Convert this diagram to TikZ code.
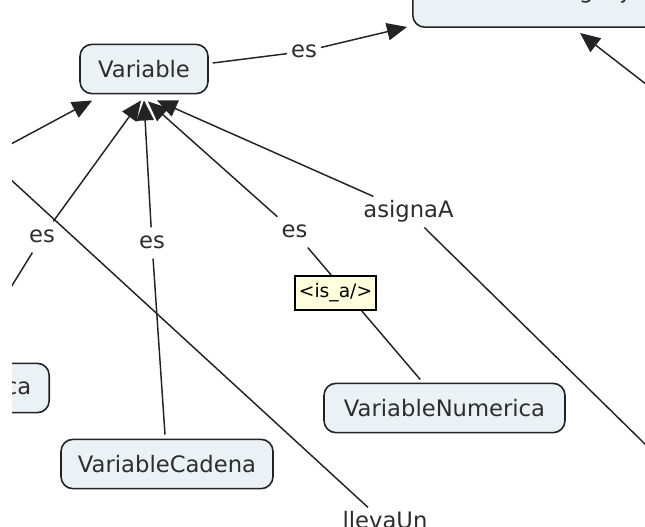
\documentclass[tikz,border=0pt]{standalone}
\usepackage{fontspec}
\setmainfont{DejaVu Sans}
\usetikzlibrary{arrows.meta,calc}
\definecolor{cfill}{RGB}{235,242,245}
\definecolor{cline}{RGB}{35,35,35}
\definecolor{ctext}{RGB}{45,45,45}
\definecolor{tipfill}{RGB}{255,255,222}
\begin{document}
\begin{tikzpicture}[x=0.75pt,y=-0.75pt,
  concept/.style={draw=cline, line width=1.2pt, fill=cfill, rounded corners=9pt, text=ctext,
    font=\fontsize{17pt}{20pt}\selectfont, minimum height=37pt, inner xsep=0pt, inner ysep=0pt},
  lbl/.style={text=ctext, font=\fontsize{17pt}{20pt}\selectfont, text height=12.9pt,
    text depth=4.1pt, inner xsep=3pt, inner ysep=3pt},
  conn/.style={draw=cline, line width=1.1pt},
  arr/.style={conn, -{Triangle[length=15pt,width=13pt]}},
  tooltip/.style={draw=black, line width=1.1pt, fill=tipfill, minimum width=60.75pt,
    minimum height=25.5pt, inner sep=0pt, font=\fontsize{14pt}{16pt}\selectfont, text=black}
]
\useasboundingbox (0,0) rectangle (645,527);
\clip (12,0) rectangle (645,527);

% concepts
\node[concept, minimum width=96pt] (var) at (144,69) {Variable};
\node[concept, minimum width=159pt] (vc) at (167,464) {VariableCadena};
\node[concept, minimum width=180.75pt] (vn) at (444.5,408) {VariableNumerica};
\node[concept, anchor=east, inner xsep=13.5pt] (vl) at (50,388) {VariableLogica};
\node[concept, anchor=south west, inner xsep=13.5pt, text height=20pt, text depth=21.3pt,
  minimum height=0pt] (elem) at (412,28) {ElementoLenguaje};

% linking phrases
\node[lbl] (estop) at (304,51.5) {es};
\node[lbl] (esl) at (42,237) {es};
\node[lbl] (esm) at (152,243) {es};
\node[lbl] (esr) at (294.5,232) {es};
\node[lbl] (asig) at (408.5,212) {asignaA};
\node[lbl] (llev) at (385,523) {llevaUn};

% free ends outside the view
\coordinate (offA) at (-30,166);
\coordinate (offB) at (-40,133);
\coordinate (offC) at (700,498);
\coordinate (offD) at (660,95);

% connectors
\draw[conn] ($(var.east)+(4,-6)$) -- (estop);
\draw[arr] (estop) -- ($(elem.south west)+(-5,-1)$);
\draw[arr] (offD) -- ($(elem.south west)+(168,5)$);

\draw[arr] (offA) -- ($(var.south west)+(13,6)$);
\draw[arr] (esl) -- ($(var.south)+(-3,6)$);
\draw[arr] (esm) -- ($(var.south)+(0,6)$);
\draw[arr] (esr) -- ($(var.south)+(4,7)$);
\draw[arr] (asig) -- ($(var.south)+(13,6)$);

\draw[conn] (esl) -- (vl);
\draw[conn, shorten >=3pt] (esm) -- (vc);
\draw[conn, shorten >=3pt] (esr) -- (vn);
\draw[conn] (asig) -- (offC);
\draw[conn] (offB) -- (llev);

% tooltip
\node[tooltip] (tip) at (335.5,293) {<is\_a/>};
\end{tikzpicture}
\end{document}
